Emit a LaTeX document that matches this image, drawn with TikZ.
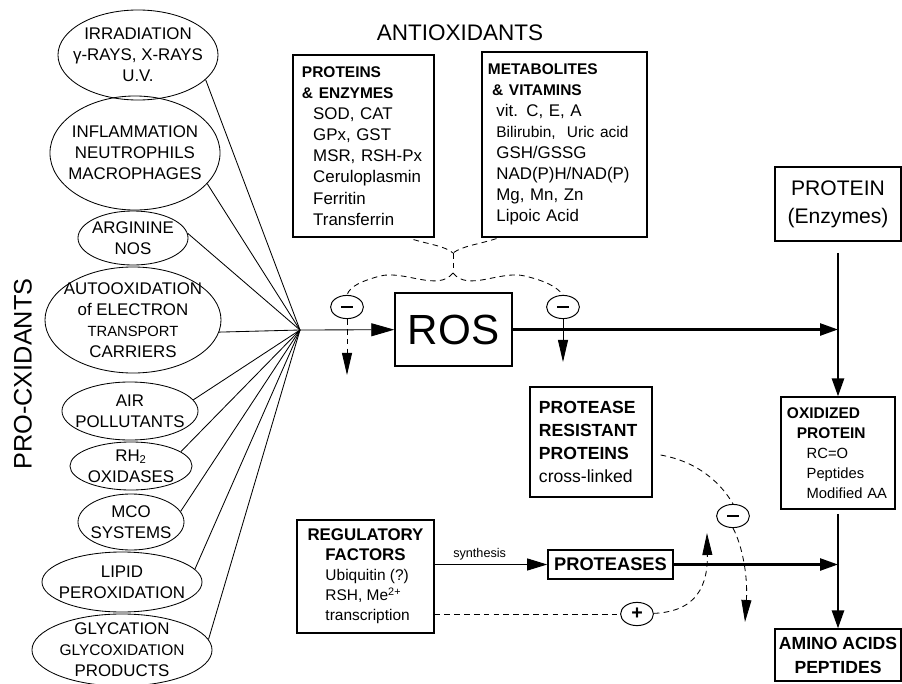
\documentclass[tikz,border=0pt]{standalone}
\usepackage{fontspec}
\setmainfont{Liberation Sans}
\usetikzlibrary{arrows.meta, calc, shapes.geometric}

\newcommand{\boxhead}[1]{{\fontsize{11}{15}\selectfont\bfseries #1}}
\newcommand{\regitem}[1]{\makebox[2cm][l]{#1}}

\begin{document}
\begin{tikzpicture}[x=0.025cm, y=-0.025cm,
    every node/.style={inner sep=0pt},
    proel/.style={ellipse, draw, line width=0.6pt},
    protxt/.style={align=center, font=\fontsize{12}{15}\selectfont},
    sign/.style={ellipse, draw, line width=0.7pt, minimum width=0.82cm, minimum height=0.58cm},
    box/.style={rectangle, draw, line width=0.8pt},
    dsh/.style={dash pattern=on 4pt off 3pt, line width=0.6pt},
    fat/.style={line width=1.8pt},
    fattip/.style={-{Triangle[length=0.45cm, width=0.3cm]}},
    dtip/.style={-{Triangle[length=0.55cm, width=0.25cm]}}]
    \useasboundingbox (0,0) rectangle (902,684);

    % Titles
    \node[rotate=90, font=\fontsize{18}{20}\selectfont] (proox) at (23,374) {PRO-CXIDANTS};
    \node[font=\fontsize{16}{18}\selectfont] (antiox) at (460,33) {ANTIOXIDANTS};

    % Pro-oxidant sources
    \node[proel, minimum width=4cm, minimum height=2.25cm] (irr) at (138,55) {};
    \node[protxt] (irrt) at (irr) {IRRADIATION\\γ-RAYS, X-RAYS\\U.V.};
    \node[proel, minimum width=4.25cm, minimum height=2.85cm] (infl) at (135,153) {};
    \node[protxt] (inflt) at (infl) {INFLAMMATION\\NEUTROPHILS\\MACROPHAGES};
    \node[proel, minimum width=2.75cm, minimum height=1.35cm] (arg) at (133,238) {};
    \node[protxt] (argt) at (arg) {ARGININE\\NOS};
    \node[proel, minimum width=4.4cm, minimum height=2.65cm] (auto) at (133,320) {};
    \node[protxt] (autot) at (auto) {AUTOOXIDATION\\of ELECTRON\\{\fontsize{10.5}{15}\selectfont TRANSPORT}\\CARRIERS};
    \node[proel, minimum width=3.4cm, minimum height=1.45cm] (air) at (130,411) {};
    \node[protxt] (airt) at (air) {AIR\\POLLUTANTS};
    \node[proel, minimum width=3.05cm, minimum height=1.2cm] (rh) at (131,466) {};
    \node[protxt] (rht) at (rh) {RH\textsubscript{2}\\OXIDASES};
    \node[proel, minimum width=2.65cm, minimum height=1.4cm] (mco) at (131,522) {};
    \node[protxt] (mcot) at (mco) {MCO\\SYSTEMS};
    \node[proel, minimum width=4cm, minimum height=1.5cm] (lip) at (122,582) {};
    \node[protxt] (lipt) at (lip) {LIPID\\PEROXIDATION};
    \node[proel, minimum width=4.5cm, minimum height=1.8cm] (gly) at (122,650) {};
    \node[protxt] (glyt) at (gly) {GLYCATION\\{\fontsize{11}{15}\selectfont GLYCOXIDATION}\\PRODUCTS};
    \coordinate (hub) at (300,330);

    % Antioxidant boxes
    \node[box, minimum width=3.525cm, minimum height=4.55cm, inner xsep=0.225cm,
          text width=3.075cm, align=left, font=\fontsize{12}{15}\selectfont] (prot) at (363.5,146)
        {\boxhead{PROTEINS}\\\boxhead{\& ENZYMES}\\
         \hspace*{8pt}SOD, CAT\\\hspace*{8pt}GPx, GST\\\hspace*{8pt}MSR, RSH-Px\\
         \hspace*{8pt}Ceruloplasmin\\\hspace*{8pt}Ferritin\\\hspace*{8pt}Transferrin};
    \node[box, minimum width=4.125cm, minimum height=4.625cm, inner xsep=0.15cm,
          text width=3.825cm, align=left, font=\fontsize{12}{15}\selectfont] (metab) at (564.5,144.5)
        {\boxhead{METABOLITES}\\\hspace*{3pt}\boxhead{\& VITAMINS}\\
         \hspace*{6pt}vit. C, E, A\\\hspace*{6pt}{\fontsize{11}{15}\selectfont Bilirubin,\ \ Uric acid}\\
         \hspace*{6pt}GSH/GSSG\\\hspace*{6pt}NAD(P)H/NAD(P)\\\hspace*{6pt}Mg, Mn, Zn\\\hspace*{6pt}Lipoic Acid};

    % Inhibition signs
    \node[sign] (lminus) at (347,307) {\rule{2.8mm}{0.6mm}};
    \node[sign] (rminus) at (563,307) {\rule{2.8mm}{0.6mm}};
    \node[sign] (pminus) at (733,516) {\rule{2.8mm}{0.6mm}};
    \node[sign] (plus) at (637,614) {\fontsize{14}{14}\selectfont\bfseries +};
    \coordinate (ysplit) at (453,253);
    \coordinate (yfork) at (453,273);
    \coordinate (lout) at (347,375);
    \coordinate (rout) at (563,362);
    \coordinate (pout) at (745,622);
    \coordinate (pup) at (707,533);

    % Main boxes
    \node[box, line width=1pt, minimum width=2.925cm, minimum height=1.825cm,
          font=\fontsize{30}{32}\selectfont] (ros) at (453.5,329.5) {ROS};
    \node[box, minimum width=3.15cm, minimum height=1.85cm, align=center,
          font=\fontsize{15}{20}\selectfont] (penz) at (838,204) {PROTEIN\\(Enzymes)};
    \node[box, minimum width=2.85cm, minimum height=2.8cm, inner xsep=0.15cm,
          text width=2.55cm, align=left, font=\fontsize{10.5}{14.2}\selectfont] (oxid) at (838,453)
        {\boxhead{OXIDIZED}\\\hspace*{7pt}\boxhead{PROTEIN}\\\hspace*{14pt}RC=O\\
         \hspace*{14pt}Peptides\\\hspace*{14pt}Modified AA};
    \node[box, minimum width=3.15cm, minimum height=1.3cm, align=center,
          font=\fontsize{12.5}{17}\selectfont\bfseries] (amino) at (838,655) {AMINO ACIDS\\PEPTIDES};
    \node[box, minimum width=3.05cm, minimum height=2.75cm, inner xsep=0.225cm,
          text width=2.6cm, align=left, font=\fontsize{12.5}{16.5}\selectfont] (resist) at (591,442)
        {\textbf{PROTEASE}\\\textbf{RESISTANT}\\\textbf{PROTEINS}\\cross-linked};
    \node[box, minimum width=3.425cm, minimum height=2.825cm, align=center,
          font=\fontsize{11}{14.2}\selectfont] (reg) at (365.5,576.5)
        {\boxhead{\fontsize{12}{14.2}\selectfont REGULATORY}\\\boxhead{\fontsize{12}{14.2}\selectfont FACTORS}\\
         \regitem{Ubiquitin (?)}\\\regitem{RSH, Me\textsuperscript{2+}}\\\regitem{transcription}};
    \node[box, line width=1.1pt, minimum width=3.125cm, minimum height=0.725cm,
          font=\fontsize{13}{15}\selectfont\bfseries] (proteases) at (610.5,564.5) {PROTEASES};

    % Pro-oxidants to ROS
    \draw[line width=0.6pt] (irr.-20) -- (hub);
    \draw[line width=0.6pt] (infl.-23) -- (hub);
    \draw[line width=0.6pt] (arg.5) -- (hub);
    \draw[line width=0.6pt] (auto.-8) -- (hub);
    \draw[line width=0.6pt] (air.10) -- (hub);
    \draw[line width=0.6pt] (rh.16) -- (hub);
    \draw[line width=0.6pt] (mco.12) -- (hub);
    \draw[line width=0.6pt] (lip.10) -- (hub);
    \draw[line width=0.6pt] (gly.7) -- (hub);
    \draw[line width=0.6pt, -{Triangle[length=0.575cm, width=0.325cm]}] (hub) -- (ros);

    % Antioxidant inhibition
    \draw[dsh] ($(prot.south east)+(-21,2)$) .. controls (428,244) and (445,246) .. (ysplit);
    \draw[dsh] ($(metab.south west)+(15,1)$) .. controls (480,244) and (462,246) .. (ysplit);
    \draw[dsh] (ysplit) -- (yfork);
    \draw[dsh] (yfork) .. controls (438,292) and (405,270) .. (380,276)
        .. controls (362,281) and (350,286) .. (lminus.north);
    \draw[dsh] (yfork) .. controls (468,292) and (500,270) .. (525,276)
        .. controls (545,281) and (556,286) .. (rminus.north);
    \draw[dsh, dtip] (lminus) -- (lout);
    \draw[line width=0.6pt, dtip] (rminus) -- (rout);

    % Oxidation and degradation
    \draw[fat, fattip] (ros) -- (ros -| oxid);
    \draw[fat, fattip] ([yshift=-8pt]penz.south) -- (oxid);
    \draw[fat, fattip] ([yshift=-3pt]oxid.south) -- (amino);
    \draw[fat, fattip] (proteases) -- (proteases -| oxid);
    \draw[line width=0.7pt, -{Triangle[length=0.5cm, width=0.3cm]}] (reg.east |- proteases) -- (proteases)
        node[pos=0.4, above=3pt, font=\fontsize{9}{10}\selectfont] (synlbl) {synthesis};

    % Protease control
    \draw[dsh] ($(resist.east)+(8,13)$) .. controls (700,462) and (722,485) .. (pminus.north);
    \draw[dsh, dtip] (pminus.south) .. controls (742,545) and (748,575) .. (pout);
    \draw[dsh] (reg.east |- plus) -- (plus);
    \draw[dsh, dtip] (plus) .. controls (688,612) and (708,595) .. (pup);
\end{tikzpicture}
\end{document}
